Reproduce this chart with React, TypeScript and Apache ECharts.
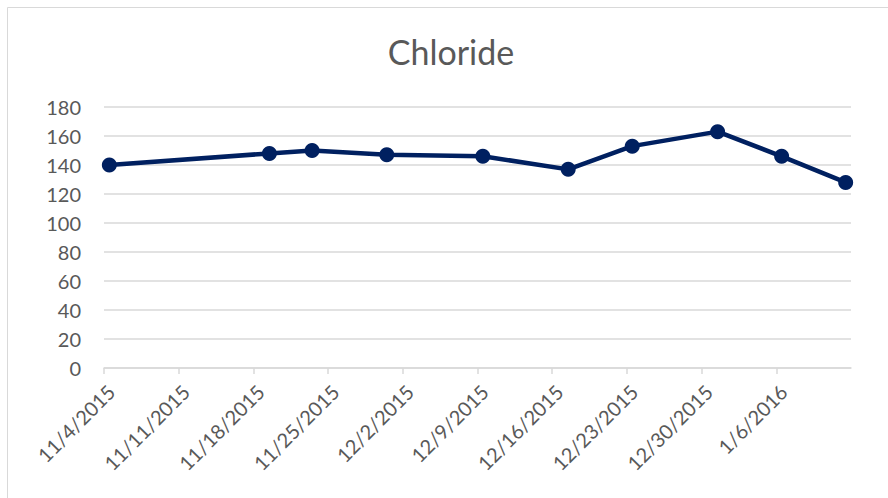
import React, { useEffect, useRef } from "react";
import * as echarts from "echarts";

const axisStart = "2015-11-04";
const axisDays = 70;
const tickStepDays = 7;
const sampleDates = [
  "2015-11-04",
  "2015-11-19",
  "2015-11-23",
  "2015-11-30",
  "2015-12-09",
  "2015-12-17",
  "2015-12-23",
  "2015-12-31",
  "2016-01-06",
  "2016-01-12",
];
const chlorideValues = [140, 148, 150, 147, 146, 137, 153, 163, 146, 128];
const yMin = 0;
const yMax = 180;
const yStep = 20;

const DAY = 86400000;
const toUTC = (s: string) => {
  const [y, m, d] = s.split("-").map(Number);
  return Date.UTC(y, m - 1, d);
};
const startMs = toUTC(axisStart);

export default function App() {
  const ref = useRef<HTMLDivElement>(null);
  useEffect(() => {
    if (!ref.current) return;
    const chart = echarts.init(ref.current, null, { renderer: "svg" });
    const data = sampleDates.map((d, i) => [
      (toUTC(d) - startMs) / DAY + 0.5,
      chlorideValues[i],
    ]);
    const font = "Lato, 'Open Sans', sans-serif";
    chart.setOption({
      animation: false,
      backgroundColor: "#ffffff",
      textStyle: { fontFamily: font },
      title: {
        text: "Chloride",
        left: 446,
        top: 29,
        textAlign: "center",
        textStyle: {
          fontFamily: font,
          fontSize: 34,
          fontWeight: "normal",
          color: "#595959",
        },
      },
      graphic: [
        {
          type: "rect",
          shape: { x: 7.5, y: 7.5, width: 920, height: 600 },
          style: { fill: "none", stroke: "#d9d9d9", lineWidth: 1 },
          silent: true,
          z: -1,
        },
      ],
      grid: { left: 104, right: 37, top: 107, bottom: 130, containLabel: false },
      xAxis: {
        type: "value",
        min: 0,
        max: axisDays,
        interval: tickStepDays,
        axisLine: { show: true, lineStyle: { color: "#d9d9d9", width: 1.5 } },
        axisTick: { show: true, length: 6, lineStyle: { color: "#d9d9d9", width: 1.5 } },
        splitLine: { show: false },
        axisLabel: {
          rotate: 45,
          margin: 13,
          verticalAlign: "top",
          fontSize: 20,
          fontFamily: font,
          color: "#595959",
          showMaxLabel: false,
          formatter: (v: number) => {
            if (v >= axisDays) return "";
            const dt = new Date(startMs + v * DAY);
            return `${dt.getUTCMonth() + 1}/${dt.getUTCDate()}/${dt.getUTCFullYear()}`;
          },
        },
      },
      yAxis: {
        type: "value",
        min: yMin,
        max: yMax,
        interval: yStep,
        axisLine: { show: false },
        axisTick: { show: false },
        splitLine: { show: true, lineStyle: { color: "#d9d9d9", width: 1.5 } },
        axisLabel: {
          margin: 23,
          fontSize: 20,
          fontFamily: font,
          color: "#595959",
        },
      },
      series: [
        {
          type: "line",
          data,
          symbol: "circle",
          symbolSize: 15,
          lineStyle: { color: "#002060", width: 4.5 },
          itemStyle: { color: "#002060" },
          z: 3,
        },
      ],
    });
    return () => chart.dispose();
  }, []);
  return (
    <div
      ref={ref}
      style={{ position: "fixed", left: 0, top: 0, width: 888, height: 498 }}
    />
  );
}
